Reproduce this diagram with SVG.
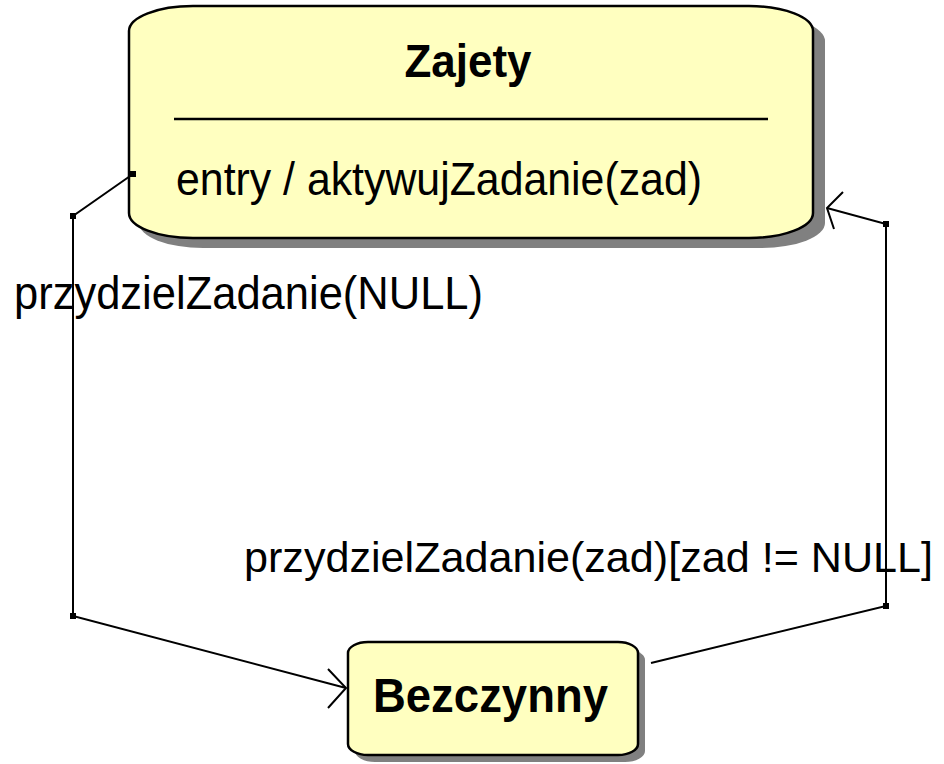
<svg xmlns="http://www.w3.org/2000/svg" width="944" height="764" viewBox="0 0 944 764">
  <style>
    .state { fill: #ffffc0; stroke: #000; stroke-width: 2.5; }
    .shadow { fill: #808080; }
    .title { font-family: "Liberation Sans", Arial, sans-serif; font-weight: bold; fill: #000; }
    .txt { font-family: "Liberation Sans", Arial, sans-serif; fill: #000; }
    .edge { fill: none; stroke: #000; stroke-width: 2; }
    .dot { fill: #000; }
  </style>

  <rect width="944" height="764" fill="#fff"/>

  <!-- state: Zajety -->
  <g id="zajety">
    <rect class="shadow" x="139" y="16" width="686" height="232" rx="64" ry="25"/>
    <rect class="state" x="129" y="6" width="684" height="232" rx="64" ry="25"/>
    <text class="title" x="468" y="77" font-size="47" text-anchor="middle" textLength="127" lengthAdjust="spacingAndGlyphs">Zajety</text>
    <line x1="174" y1="119" x2="768" y2="119" stroke="#000" stroke-width="2.5"/>
    <text class="txt" x="176" y="195" font-size="46" textLength="526" lengthAdjust="spacingAndGlyphs">entry / aktywujZadanie(zad)</text>
  </g>

  <!-- state: Bezczynny -->
  <g id="bezczynny">
    <rect class="shadow" x="355" y="649" width="290" height="113" rx="20" ry="11"/>
    <rect class="state" x="348" y="642" width="290" height="113" rx="20" ry="11"/>
    <text class="title" x="373" y="712" font-size="49" textLength="235" lengthAdjust="spacingAndGlyphs">Bezczynny</text>
  </g>

  <!-- transitions -->
  <g id="connectors">
    <!-- Zajety -> Bezczynny -->
    <polyline class="edge" points="133,174 73,216 73,616 346,688"/>
    <polyline class="edge" points="328,669 346,688 328,708"/>
    <rect class="dot" x="130" y="171" width="6" height="6"/>
    <rect class="dot" x="70" y="213" width="6" height="6"/>
    <rect class="dot" x="70" y="613" width="6" height="6"/>
    <text class="txt" x="14" y="309" font-size="46" textLength="469" lengthAdjust="spacingAndGlyphs">przydzielZadanie(NULL)</text>

    <!-- Bezczynny -> Zajety -->
    <polyline class="edge" points="651,663 886,606 886,224 827,208"/>
    <polyline class="edge" points="843,192 827,208 834,229"/>
    <rect class="dot" x="883" y="603" width="6" height="6"/>
    <rect class="dot" x="883" y="221" width="6" height="6"/>
    <text class="txt" x="244" y="572" font-size="43" textLength="689" lengthAdjust="spacingAndGlyphs">przydzielZadanie(zad)[zad != NULL]</text>
  </g>
</svg>
